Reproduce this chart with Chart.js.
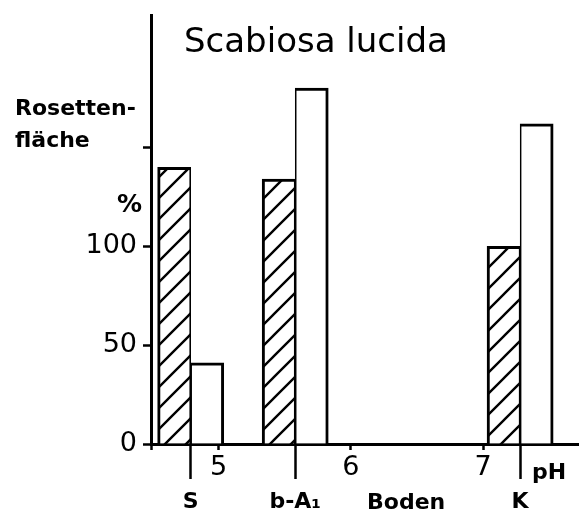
<!DOCTYPE html>
<html>
<head>
<meta charset="utf-8">
<script src="https://cdn.jsdelivr.net/npm/chart.js@4.4.0/dist/chart.umd.min.js"></script>
<style>
    html, body { margin: 0; padding: 0; background: #fff; }
    #wrap { position: relative; width: 579px; height: 517px; }
</style>
</head>
<body>
<div id="wrap"><canvas id="scabiosaChart"></canvas></div>
<script>
// Bodenproben und ihr pH
const soilNames = ['S', 'b-A₁', 'K'];
const soilPH = [4.79, 5.58, 7.28];

// Rosettenfläche in % (schraffiert / offen)
const hatchedValues = [140, 134, 100];
const openValues = [41, 180, 162];

// Achsen
const phTicks = [5, 6, 7];
const yTicks = [0, 50, 100, 150];
const yLabels = ['0', '50', '100', ''];

const PH_MIN = 4.49;
const PH_MAX = 7.725;
const BAR_W = 0.25; // Balkenbreite in pH-Einheiten
const FONT = '"DejaVu Sans", sans-serif';

// Schraffur "////"
function makeHatch() {
    const s = 21;
    const c = document.createElement('canvas');
    c.width = s;
    c.height = s;
    const g = c.getContext('2d');
    g.fillStyle = '#fff';
    g.fillRect(0, 0, s, s);
    g.strokeStyle = '#000';
    g.lineWidth = 2.4;
    g.beginPath();
    g.moveTo(-2, s + 2); g.lineTo(s + 2, -2);
    g.moveTo(-2, 2); g.lineTo(2, -2);
    g.moveTo(s - 2, s + 2); g.lineTo(s + 2, s - 2);
    g.stroke();
    return g.createPattern(c, 'repeat');
}

const textPlugin = {
    id: 'textPlugin',
    afterDraw(chart) {
        const { ctx } = chart;
        ctx.save();
        ctx.fillStyle = '#000';
        ctx.textBaseline = 'alphabetic';
        ctx.textAlign = 'left';
        ctx.font = `34px ${FONT}`;
        ctx.fillText('Scabiosa lucida', 184, 52);
        ctx.font = `bold 22px ${FONT}`;
        ctx.fillText('Rosetten-', 15, 115);
        ctx.fillText('fläche', 15, 147);
        ctx.fillText('Boden', 367, 509);
        ctx.fillText('pH', 532, 479);
        ctx.font = `bold 25px ${FONT}`;
        ctx.fillText('%', 117, 212);
        ctx.restore();
    }
};

const hatch = makeHatch();

new Chart(document.getElementById('scabiosaChart'), {
    type: 'bar',
    data: {
        datasets: [
            {
                data: soilPH.map((p, i) => ({ x: p - BAR_W / 2, y: hatchedValues[i] })),
                backgroundColor: hatch,
                borderColor: '#000',
                borderWidth: { top: 3, left: 3, right: 1.6, bottom: 0 },
                borderSkipped: 'start'
            },
            {
                data: soilPH.map((p, i) => ({ x: p + BAR_W / 2, y: openValues[i] })),
                backgroundColor: '#fff',
                borderColor: '#000',
                borderWidth: { top: 3, left: 1.6, right: 3, bottom: 0 },
                borderSkipped: 'start'
            }
        ]
    },
    options: {
        responsive: true,
        maintainAspectRatio: false,
        animation: false,
        grouped: false,
        barPercentage: 1,
        categoryPercentage: 1,
        layout: { padding: { top: 15, left: 0, right: 0, bottom: 0 } },
        plugins: {
            legend: { display: false },
            tooltip: { enabled: false }
        },
        scales: {
            x: {
                type: 'linear',
                position: 'bottom',
                min: PH_MIN,
                max: PH_MAX,
                offset: false,
                afterBuildTicks: s => { s.ticks = [PH_MIN, ...phTicks].map(v => ({ value: v })); },
                ticks: {
                    callback: v => (phTicks.includes(v) ? String(v) : ''),
                    font: { family: FONT, size: 27 },
                    color: '#000',
                    padding: 2,
                    maxRotation: 0,
                    autoSkip: false
                },
                grid: { offset: false, drawOnChartArea: false, tickLength: 6, tickWidth: 2.5, tickColor: '#000' },
                border: { display: true, color: '#000', width: 3 },
                afterFit: s => { s.height = 73; s.paddingLeft = 0; s.paddingRight = 0; }
            },
            soil: {
                type: 'linear',
                axis: 'x',
                position: { y: 0 },
                min: PH_MIN,
                max: PH_MAX,
                offset: false,
                afterBuildTicks: s => { s.ticks = soilPH.map(v => ({ value: v })); },
                ticks: {
                    callback: (v, i) => soilNames[i],
                    font: { family: FONT, size: 22, weight: 'bold' },
                    color: '#000',
                    padding: 10,
                    maxRotation: 0,
                    autoSkip: false
                },
                grid: { offset: false, drawOnChartArea: false, tickLength: 35, tickWidth: 2.5, tickColor: '#000' },
                border: { display: false }
            },
            y: {
                min: 0,
                max: 217,
                afterBuildTicks: s => { s.ticks = yTicks.map(v => ({ value: v })); },
                ticks: {
                    callback: (v, i) => yLabels[i],
                    font: { family: FONT, size: 27 },
                    color: '#000',
                    padding: 6
                },
                grid: { drawOnChartArea: false, tickLength: 8, tickWidth: 2.5, tickColor: '#000' },
                border: { display: true, color: '#000', width: 3 },
                afterFit: s => { s.width = 151; s.paddingTop = 0; s.paddingBottom = 0; }
            }
        }
    },
    plugins: [textPlugin]
});
</script>
</body>
</html>
